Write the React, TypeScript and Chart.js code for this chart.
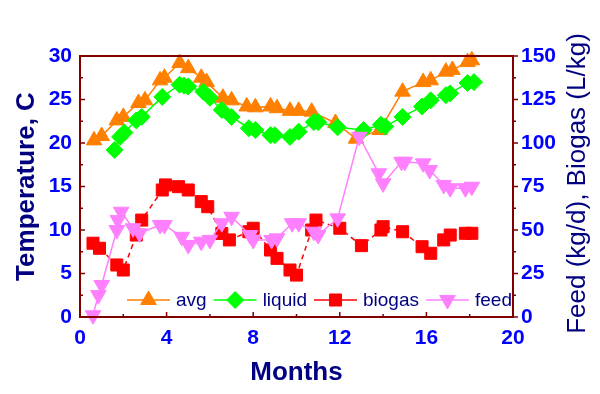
import React, { useEffect, useRef } from "react";
import { Chart, registerables } from "chart.js";

Chart.register(...registerables);

// ---------- data ----------
const avgMonths = [0.65, 1.0, 1.7, 2.0, 2.7, 3.0, 3.7, 3.9, 4.6, 5.0, 5.6, 5.85, 6.6, 7.0, 7.7, 8.1, 8.8, 9.1, 9.7, 10.1, 10.7, 11.8, 12.75, 13.85, 14.9, 15.85, 16.2, 16.9, 17.2, 17.9, 18.1];
const avgTemp = [20.3, 20.8, 22.6, 23.0, 24.6, 24.9, 27.2, 27.5, 29.2, 28.6, 27.5, 27.0, 25.2, 24.9, 24.2, 24.1, 24.2, 24.0, 23.7, 23.7, 23.6, 22.3, 20.5, 21.5, 25.9, 27.0, 27.2, 28.2, 28.4, 29.3, 29.5];

const liquidMonths = [1.6, 1.85, 2.05, 2.6, 2.85, 3.8, 4.6, 4.8, 5.0, 5.7, 6.0, 6.55, 7.0, 7.8, 8.1, 8.8, 9.0, 9.7, 10.1, 10.8, 11.0, 11.9, 13.1, 13.9, 14.1, 14.9, 15.8, 16.2, 16.9, 17.1, 17.9, 18.2];
const liquidTemp = [19.2, 20.7, 21.2, 22.6, 23.0, 25.3, 26.7, 26.6, 26.5, 25.9, 25.2, 23.8, 23.0, 21.7, 21.5, 20.9, 20.9, 20.7, 21.3, 22.4, 22.4, 21.8, 21.5, 22.1, 21.9, 23.0, 24.2, 24.9, 25.5, 25.7, 26.9, 27.0];

const biogasMonths = [0.6, 0.9, 1.7, 2.0, 2.6, 2.85, 3.8, 3.95, 4.55, 5.0, 5.6, 5.9, 6.55, 6.9, 7.8, 8.0, 8.8, 9.1, 9.7, 10.0, 10.7, 10.9, 12.0, 13.0, 13.9, 14.0, 14.9, 15.8, 16.2, 16.8, 17.1, 17.8, 18.1];
const biogasValues = [42.4, 39.5, 29.9, 27.0, 47.1, 55.7, 73.0, 75.9, 74.9, 73.0, 66.3, 63.4, 48.0, 44.3, 49.0, 51.0, 38.5, 33.7, 27.0, 24.1, 50.0, 55.7, 51.0, 41.0, 50.0, 51.9, 49.0, 40.4, 36.6, 44.3, 47.1, 48.1, 48.1];

const feedMonths = [0.6, 0.85, 1.0, 1.7, 1.75, 1.9, 2.45, 2.75, 3.7, 3.9, 4.7, 5.0, 5.6, 6.0, 6.55, 7.0, 7.85, 8.0, 8.85, 9.1, 9.8, 10.1, 10.8, 11.0, 11.9, 12.9, 13.8, 14.0, 14.85, 15.0, 15.85, 16.15, 16.8, 17.1, 17.8, 18.1];
const feedValues = [1.0, 12.6, 18.4, 50.0, 55.7, 60.5, 51.0, 48.1, 52.9, 52.9, 46.1, 41.4, 43.3, 44.3, 53.9, 57.6, 47.1, 44.3, 44.3, 45.2, 53.9, 53.9, 49.0, 47.1, 56.7, 103.6, 82.6, 76.8, 89.2, 89.2, 88.3, 84.5, 75.9, 74.0, 74.0, 74.9];

const seriesLabels = ["avg", "liquid", "biogas", "feed"];
const xTicks = [0, 4, 8, 12, 16, 20];
const leftTicks = [0, 5, 10, 15, 20, 25, 30];
const rightTicks = [0, 25, 50, 75, 100, 125, 150];

const xTitle = "Months";
const leftTitle = "Temperature, C";
const rightTitle = "Feed (kg/d), Biogas (L/kg)";

// ---------- styles ----------
const FONT = "'Liberation Sans', Arial, Helvetica, sans-serif";
const FRAME = "#800000";
const TICK_COLOR = "#0000FF";
const TITLE_COLOR = "#000080";

const pts = (xs: number[], ys: number[]) => xs.map((x, i) => ({ x, y: ys[i] }));

function drawMarker(ctx: CanvasRenderingContext2D, style: string, rotation: number, x: number, y: number, r: number, color: string) {
  ctx.save();
  ctx.fillStyle = color;
  ctx.strokeStyle = color;
  ctx.lineWidth = 1;
  ctx.beginPath();
  if (style === "triangle") {
    let rad = (rotation * Math.PI) / 180;
    ctx.moveTo(x + Math.sin(rad) * r, y - Math.cos(rad) * r);
    rad += (2 * Math.PI) / 3;
    ctx.lineTo(x + Math.sin(rad) * r, y - Math.cos(rad) * r);
    rad += (2 * Math.PI) / 3;
    ctx.lineTo(x + Math.sin(rad) * r, y - Math.cos(rad) * r);
    ctx.closePath();
  } else if (style === "rectRot") {
    ctx.moveTo(x - r, y);
    ctx.lineTo(x, y - r);
    ctx.lineTo(x + r, y);
    ctx.lineTo(x, y + r);
    ctx.closePath();
  } else {
    const s = Math.SQRT1_2 * r;
    ctx.rect(x - s, y - s, 2 * s, 2 * s);
  }
  ctx.fill();
  ctx.stroke();
  ctx.restore();
}

const decorPlugin = {
  id: "decor",
  afterDatasetsDraw(chart: any) {
    const ctx: CanvasRenderingContext2D = chart.ctx;
    // legend
    const y = chart.chartArea.bottom - 17;
    let x = chart.chartArea.left + 47;
    ctx.save();
    ctx.font = `19px ${FONT}`;
    ctx.textBaseline = "middle";
    ctx.textAlign = "left";
    chart.data.datasets.forEach((ds: any) => {
      const lineLen = 43;
      ctx.save();
      ctx.strokeStyle = ds.borderColor;
      ctx.lineWidth = 1.5;
      ctx.beginPath();
      ctx.moveTo(x, y);
      ctx.lineTo(x + lineLen, y);
      ctx.stroke();
      ctx.restore();
      drawMarker(ctx, ds.pointStyle, ds.pointRotation || 0, x + lineLen / 2, y, ds.pointRadius, ds.pointBackgroundColor);
      ctx.fillStyle = TITLE_COLOR;
      const tx = x + lineLen + 6;
      ctx.fillText(ds.label, tx, y + 1);
      x = tx + ctx.measureText(ds.label).width + 7;
    });
    ctx.restore();
  },
  afterDraw(chart: any) {
    const ctx: CanvasRenderingContext2D = chart.ctx;
    const { left, right, top, bottom } = chart.chartArea;
    const sx = chart.scales.x;
    const sy = chart.scales.y;
    const sy2 = chart.scales.y2;
    ctx.save();
    ctx.strokeStyle = FRAME;
    ctx.lineWidth = 2;
    ctx.strokeRect(left, top, right - left, bottom - top);
    ctx.lineWidth = 1.5;
    ctx.beginPath();
    // x ticks (inward)
    for (let v = 0; v <= 20; v += 2) {
      const px = sx.getPixelForValue(v);
      const len = v % 4 === 0 ? 5 : 3;
      ctx.moveTo(px, bottom);
      ctx.lineTo(px, bottom - len);
    }
    // left ticks (inward)
    for (let v = 0; v <= 30; v += 2.5) {
      const py = sy.getPixelForValue(v);
      const len = v % 5 === 0 ? 5 : 3;
      ctx.moveTo(left, py);
      ctx.lineTo(left + len, py);
    }
    // right ticks (outward)
    for (let v = 0; v <= 150; v += 12.5) {
      const py = sy2.getPixelForValue(v);
      const len = v % 25 === 0 ? 5 : 3;
      ctx.moveTo(right, py);
      ctx.lineTo(right + len, py);
    }
    ctx.stroke();

    // titles
    ctx.fillStyle = TITLE_COLOR;
    ctx.textAlign = "center";
    ctx.textBaseline = "middle";
    ctx.font = `bold 26px ${FONT}`;
    ctx.fillText(xTitle, (left + right) / 2, 373);

    ctx.save();
    ctx.translate(27, (top + bottom) / 2);
    ctx.rotate(-Math.PI / 2);
    ctx.fillText(leftTitle, 0, 0);
    ctx.restore();

    ctx.save();
    ctx.font = `26px ${FONT}`;
    ctx.translate(578, (top + bottom) / 2 - 3);
    ctx.rotate(-Math.PI / 2);
    ctx.fillText(rightTitle, 0, 0);
    ctx.restore();

    ctx.restore();
  },
};

export default function App() {
  const ref = useRef<HTMLCanvasElement | null>(null);

  useEffect(() => {
    if (!ref.current) return;
    const tickFont = { family: FONT, size: 21, weight: "bold" as const };
    const noGrid = { display: false, drawTicks: false, tickLength: 0 };
    const chart = new Chart(ref.current, {
      type: "line",
      data: {
        datasets: [
          {
            label: seriesLabels[0],
            data: pts(avgMonths, avgTemp),
            yAxisID: "y",
            borderColor: "#FF8000",
            backgroundColor: "#FF8000",
            pointBackgroundColor: "#FF8000",
            pointBorderColor: "#FF8000",
            pointStyle: "triangle",
            pointRadius: 9,
            pointBorderWidth: 1,
            borderWidth: 1.5,
            order: 4,
            clip: false as any,
          },
          {
            label: seriesLabels[1],
            data: pts(liquidMonths, liquidTemp),
            yAxisID: "y",
            borderColor: "#00FF00",
            backgroundColor: "#00FF00",
            pointBackgroundColor: "#00FF00",
            pointBorderColor: "#00FF00",
            pointStyle: "rectRot",
            pointRadius: 8.5,
            pointBorderWidth: 1,
            borderWidth: 1.5,
            order: 3,
            clip: false as any,
          },
          {
            label: seriesLabels[2],
            data: pts(biogasMonths, biogasValues),
            yAxisID: "y2",
            borderColor: "#FF0000",
            backgroundColor: "#FF0000",
            pointBackgroundColor: "#FF0000",
            pointBorderColor: "#FF0000",
            pointStyle: "rect",
            pointRadius: 8.5,
            pointBorderWidth: 1,
            borderWidth: 1.5,
            borderDash: [5, 4],
            order: 2,
            clip: false as any,
          },
          {
            label: seriesLabels[3],
            data: pts(feedMonths, feedValues),
            yAxisID: "y2",
            borderColor: "#FF80FF",
            backgroundColor: "#FF80FF",
            pointBackgroundColor: "#FF80FF",
            pointBorderColor: "#FF80FF",
            pointStyle: "triangle",
            pointRotation: 180,
            pointRadius: 9,
            pointBorderWidth: 1,
            borderWidth: 1.5,
            order: 1,
            clip: false as any,
          },
        ] as any,
      },
      options: {
        animation: false,
        responsive: false,
        layout: { padding: { top: 56, left: 0, right: 0, bottom: 0 } },
        plugins: { legend: { display: false }, tooltip: { enabled: false } },
        scales: {
          x: {
            type: "linear",
            position: "bottom",
            min: 0,
            max: 20,
            grid: noGrid,
            border: { display: false },
            afterBuildTicks: (s: any) => { s.ticks = xTicks.map((v) => ({ value: v })); },
            afterFit: (s: any) => { s.height = 77; },
            ticks: { color: TICK_COLOR, font: tickFont, padding: 9, maxRotation: 0, autoSkip: false },
          },
          y: {
            type: "linear",
            position: "left",
            min: 0,
            max: 30,
            grid: noGrid,
            border: { display: false },
            afterBuildTicks: (s: any) => { s.ticks = leftTicks.map((v) => ({ value: v })); },
            afterFit: (s: any) => { s.width = 80; },
            ticks: { color: TICK_COLOR, font: tickFont, padding: 8 },
          },
          y2: {
            type: "linear",
            position: "right",
            min: 0,
            max: 150,
            grid: noGrid,
            border: { display: false },
            afterBuildTicks: (s: any) => { s.ticks = rightTicks.map((v) => ({ value: v })); },
            afterFit: (s: any) => { s.width = 87; },
            ticks: { color: TICK_COLOR, font: tickFont, padding: 8 },
          },
        },
      } as any,
      plugins: [decorPlugin],
    });
    return () => chart.destroy();
  }, []);

  return (
    <div style={{ position: "absolute", left: 0, top: 0, width: 600, height: 394, background: "#fff" }}>
      <canvas ref={ref} width={600} height={394} style={{ display: "block" }} />
    </div>
  );
}
